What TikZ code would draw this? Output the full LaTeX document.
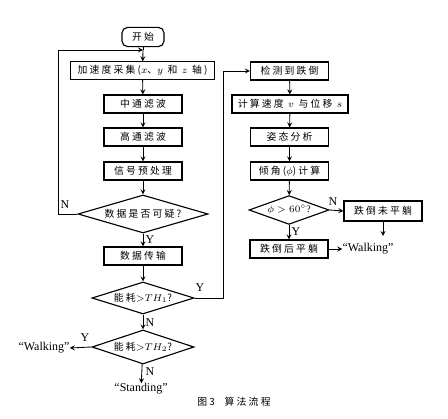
\documentclass[tikz,border=0pt]{standalone}
\usepackage{fontspec}
\setmainfont{Liberation Serif}
\newfontfamily\cjk[LetterSpace=22]{Noto Sans CJK SC}
\usetikzlibrary{shapes.geometric}

\begin{document}
\begin{tikzpicture}[x=0.025cm, y=-0.025cm, >=stealth,
    every node/.style={font=\fontsize{7}{8}\selectfont},
    box/.style={draw, thick, minimum width=1.95cm, minimum height=0.45cm, inner sep=1pt},
    decision/.style={draw, thick, diamond, inner sep=0pt},
    label/.style={inner sep=0pt, font=\fontsize{8.5}{10}\selectfont},
    flow/.style={->, semithick}]
    \useasboundingbox (0,0) rectangle (448,419);
    % left column
    \node[draw, thick, rounded corners=4pt, minimum width=1.05cm, minimum height=0.48cm] (start) at (143,37) {\cjk 开始};
    \node[box, minimum width=3.62cm, minimum height=0.43cm] (acq) at (142.5,70.5) {\cjk 加速度采集($x$、$y$ 和 $z$ 轴)};
    \node[box] (mid) at (143,104) {\cjk 中通滤波};
    \node[box] (high) at (143,137) {\cjk 高通滤波};
    \node[box] (pre) at (143,171) {\cjk 信号预处理};
    \node[decision, aspect=3.4, minimum width=3.25cm, minimum height=0.95cm] (susp) at (143,214) {\cjk 数据是否可疑?};
    \node[box] (trans) at (143,256) {\cjk 数据传输};
    \node[decision, aspect=3.2, minimum width=2.55cm, minimum height=0.8cm] (th1) at (143,298) {\cjk 能耗${>}TH_1$?};
    \node[decision, aspect=3.0, minimum width=2.55cm, minimum height=0.85cm] (th2) at (143,347) {\cjk 能耗${>}TH_2$?};
    \node[label] (walk1) at (44,348) {“Walking”};
    \node[label] (stand) at (141,389) {“Standing”};
    % right column
    \node[box] (detect) at (289.5,71) {\cjk 检测到跌倒};
    \node[box, minimum width=2.9cm] (calc) at (290,104) {\cjk 计算速度 $v$ 与位移 $s$};
    \node[box] (pose) at (289.5,137) {\cjk 姿态分析};
    \node[box] (tilt) at (289.5,171) {\cjk 倾角($\phi$)计算};
    \node[decision, aspect=2.75, minimum width=2.0cm, minimum height=0.72cm] (phi) at (289,210) {$\phi>60^\circ$?};
    \node[box, minimum height=0.5cm] (notflat) at (383,211) {\cjk 跌倒未平躺};
    \node[label] (walk2) at (368,249) {“Walking”};
    \node[box] (flat) at (289,249) {\cjk 跌倒后平躺};
    % caption
    \node[inner sep=0pt] (cap) at (234,402) {\cjk 图3\quad 算法流程};
    % connectors
    \coordinate (loopin) at (143,50);
    \draw[semithick] (start) -- (loopin);
    \draw[flow] (loopin) -- (acq);
    \draw[flow] (acq) -- (mid);
    \draw[flow] (mid) -- (high);
    \draw[flow] (high) -- (pre);
    \draw[flow] (pre) -- (susp);
    \draw[flow] (susp.west) -- (58,214) -- (58,50) -- (loopin);
    \node[label] at (65,205) {N};
    \draw[flow] (susp) -- (trans);
    \node[label] at (150,240) {Y};
    \draw[flow] (trans) -- (th1);
    \draw[flow] (th1.east) -- (223,298) -- (223,71) -- (detect.west);
    \node[label] at (200,288) {Y};
    \draw[flow] (th1) -- (th2);
    \node[label] at (150,323) {N};
    \draw[flow] (th2.west) -- (walk1.east);
    \node[label] at (85,338) {Y};
    \draw[flow] (th2) -- (stand);
    \node[label] at (150,372) {N};
    \draw[flow] (detect) -- (calc);
    \draw[flow] (calc) -- (pose);
    \draw[flow] (pose) -- (tilt);
    \draw[flow] (tilt) -- (phi);
    \draw[flow] (phi.east) -- (notflat.west);
    \node[label] at (333,202) {N};
    \coordinate (nfend) at (383,236);
    \draw[flow] (notflat.south) -- (nfend);
    \draw[flow] (phi) -- (flat);
    \node[label] at (296,232) {Y};
    \draw[flow] (flat.east) -- (walk2.west);
\end{tikzpicture}
\end{document}
